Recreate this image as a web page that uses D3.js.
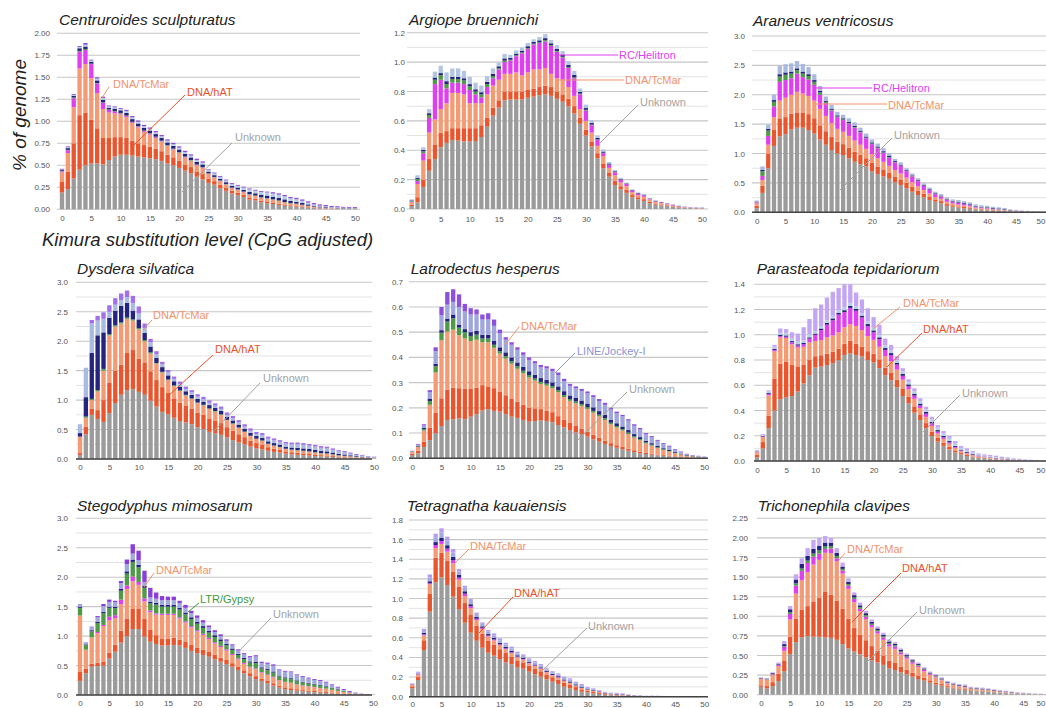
<!DOCTYPE html>
<html>
<head>
<meta charset="utf-8">
<script src="https://cdn.jsdelivr.net/npm/d3@7"></script>
<style>
  body { margin: 0; background: #fff; }
  svg { display: block; }
</style>
</head>
<body>
<div id="chart"></div>
<script>
// Kimura bins 0..50 and x tick labels
var bins = d3.range(0, 51);
var xTicks = [0, 5, 10, 15, 20, 25, 30, 35, 40, 45, 50];

// ---- Centruroides sculpturatus
var csUnknown = [.19,.23,.35,.45,.50,.52,.52,.51,.56,.60, .62,.62,.61,.60,.59,.58,.57,.55,.52,.50, .47,.44,.41,.37,.34,.30,.28,.24,.21,.18, .16,.14,.11,.10,.08,.07,.06,.05,.04,.035, .03,.025,.02,.015,.01,.01,.008,.006,.005,.004, .003];
var csHat = [.12,.20,.40,.62,.60,.50,.40,.30,.25,.22, .20,.19,.17,.15,.14,.13,.12,.11,.10,.09, .08,.07,.07,.06,.06,.05,.04,.04,.035,.03, .03,.025,.025,.02,.02,.02,.018,.015,.012,.01, .01,.008,.006,.005,.004,.003,.002,.002,.001,.001, .001];
var csTcMar = [.11,.21,.41,.53,.55,.47,.40,.33,.29,.27, .26,.24,.20,.18,.15,.14,.12,.11,.10,.09, .09,.08,.07,.07,.07,.05,.04,.04,.035,.03, .03,.03,.03,.03,.03,.03,.03,.03,.025,.02, .02,.015,.012,.008,.006,.005,.004,.003,.002,.002, .002];
var csHelitron = [.01,.03,.10,.19,.16,.16,.11,.07,.03,.02, .01,.01,.01,.01,.01,.01,.01,.005,.005,.005, .005,.005,.005,.005,.005,.005,.004,.004,.004,.004, .003,.003,.003,.003,.003,.002,.002,.002,.002,.002, .002,.001,.001,.001,.001,.001,0,0,0,0, 0];
var csGypsy = [.005,.005,.01,.01,.01,.005,.005,.005,.005,.005, .005,.005,.005,.005,.005,.005,.005,.005,.005,.005, .005,.005,.005,.005,.005,.004,.004,.004,.004,.004, .004,.004,.004,.004,.004,.004,.004,.004,.004,.003, .003,.003,.002,.002,.002,.001,.001,.001,.001,.001, .001];
var csLine = [.01,.02,.02,.03,.03,.02,.03,.03,.02,.03, .03,.03,.03,.03,.03,.03,.03,.03,.03,.03, .03,.03,.03,.03,.03,.02,.02,.02,.02,.02, .02,.02,.025,.025,.03,.03,.03,.03,.03,.025, .02,.02,.015,.01,.008,.006,.005,.005,.004,.004, .004];
var csJockey = [.005,.01,.01,.015,.02,.015,.02,.02,.015,.015, .015,.02,.02,.02,.02,.02,.02,.02,.02,.02, .02,.02,.02,.02,.02,.015,.02,.02,.02,.02, .02,.025,.03,.03,.03,.035,.035,.035,.035,.03, .03,.025,.02,.015,.01,.008,.006,.006,.005,.005, .005];
var csSine = [.01,.01,.01,.01,.02,.01,.015,.015,.01,.01, .01,.015,.015,.015,.015,.015,.015,.015,.015,.015, .015,.015,.015,.015,.015,.01,.01,.01,.01,.01, .01,.01,.01,.01,.01,.01,.015,.015,.015,.015, .015,.015,.015,.015,.015,.015,.012,.012,.01,.01, .01];

// ---- Argiope bruennichi
var abUnknown = [.02,.045,.15,.26,.34,.42,.45,.47,.465,.46, .46,.463,.49,.56,.635,.69,.74,.745,.745,.745, .757,.765,.775,.78,.77,.75,.73,.70,.65,.58, .50,.425,.345,.277,.22,.163,.134,.11,.08,.066, .055,.04,.03,.025,.02,.015,.01,.008,.006,.005, .004];
var abHat = [.01,.035,.05,.08,.10,.10,.08,.08,.085,.09, .09,.087,.08,.06,.055,.05,.06,.055,.055,.055, .053,.055,.055,.06,.06,.05,.05,.05,.05,.04, .04,.035,.035,.033,.025,.027,.021,.02,.015,.014, .012,.01,.008,.006,.005,.004,.003,.002,.002,.001, .001];
var abTcMar = [.015,.09,.13,.18,.17,.16,.19,.24,.24,.23, .17,.17,.15,.16,.15,.14,.12,.12,.13,.11, .12,.13,.12,.12,.09,.09,.10,.08,.07,.06, .06,.06,.05,.05,.035,.04,.025,.025,.02,.015, .016,.015,.01,.009,.007,.005,.004,.003,.002,.002, .002];
var abHelitron = [.005,.02,.05,.10,.24,.20,.10,.07,.07,.07, .09,.06,.04,.05,.05,.07,.08,.09,.11,.15, .16,.17,.18,.18,.19,.18,.15,.13,.12,.10, .07,.05,.04,.02,.02,.02,.02,.015,.01,.01, .01,.005,.005,.005,.004,.003,.002,.002,.001,.001, .001];
var abGypsy = [.005,.015,.012,.02,.03,.03,.03,.025,.025,.025, .025,.02,.02,.02,.015,.008,.01,.006,.006,.006, .006,.005,.006,.008,.006,.006,.006,.006,.006,.005, .005,.004,.004,.003,.003,.002,.002,.002,.001,.001, .001,.001,.001,0,0,0,0,0,0,0, 0];
var abLine = [.004,.008,.01,.012,.015,.015,.02,.015,.015,.015, .015,.015,.015,.015,.015,.013,.015,.012,.012,.012, .012,.012,.012,.015,.012,.014,.014,.014,.016,.012, .012,.011,.01,.008,.007,.005,.004,.003,.003,.003, .003,.002,.002,.002,.002,.002,.002,.001,.001,.001, .001];
var abJockey = [.007,.017,.018,.028,.04,.05,.06,.057,.057,.05, .05,.045,.045,.04,.037,.025,.03,.022,.022,.022, .022,.018,.022,.027,.022,.025,.025,.027,.028,.023, .023,.02,.016,.014,.01,.008,.007,.005,.005,.004, .003,.003,.003,.003,.002,.002,.002,.002,.002,.002, .002];

// ---- Araneus ventricosus
var avUnknown = [.07,.33,.75,1.13,1.29,1.33,1.41,1.44,1.44,1.40, 1.34,1.24,1.15,1.06,1.00,.975,.92,.86,.82,.78, .70,.65,.61,.57,.51,.465,.41,.35,.295,.255, .21,.18,.153,.11,.096,.08,.07,.06,.05,.04, .035,.03,.025,.02,.015,.012,.01,.008,.006,.005, .004];
var avHat = [.04,.12,.25,.27,.31,.29,.27,.26,.26,.27, .26,.24,.23,.22,.20,.185,.18,.17,.16,.14, .14,.13,.12,.10,.10,.095,.09,.08,.075,.065, .05,.04,.037,.03,.024,.02,.02,.015,.012,.01, .01,.008,.007,.006,.004,.003,.002,.002,.002,.001, .001];
var avTcMar = [.04,.10,.15,.22,.30,.33,.32,.35,.32,.31, .30,.28,.26,.24,.22,.21,.20,.19,.17,.16, .15,.14,.13,.12,.11,.10,.09,.08,.07,.06, .06,.04,.04,.04,.03,.03,.025,.025,.018,.018, .015,.012,.011,.009,.006,.005,.004,.003,.002,.002, .001];
var avHelitron = [.02,.07,.15,.18,.32,.30,.28,.31,.28,.28, .27,.24,.22,.21,.20,.20,.21,.22,.21,.18, .17,.17,.15,.14,.13,.13,.11,.10,.09,.07, .06,.05,.04,.035,.03,.03,.025,.02,.015,.012, .01,.008,.007,.007,.005,.004,.003,.002,.002,.001, .001];
var avGypsy = [.01,.08,.09,.08,.09,.09,.08,.06,.06,.06, .05,.04,.02,.015,.01,.01,.01,.01,.01,.01, .01,.01,.01,.008,.007,.007,.006,.006,.006,.005, .005,.005,.005,.005,.005,.006,.006,.006,.005,.005, .005,.005,.005,.004,.003,.002,.001,.001,.001,.001, 0];
var avLine = [.005,.02,.03,.03,.04,.04,.035,.03,.035,.03, .03,.025,.02,.02,.02,.02,.02,.02,.02,.02, .02,.02,.02,.02,.015,.015,.012,.012,.012,.01, .01,.01,.01,.01,.01,.012,.012,.012,.01,.01, .01,.01,.01,.008,.005,.004,.003,.003,.002,.002, .001];
var avJockey = [.015,.06,.07,.09,.14,.14,.14,.125,.13,.12, .10,.085,.07,.065,.06,.06,.06,.06,.05,.05, .05,.05,.05,.042,.038,.038,.032,.032,.032,.025, .025,.025,.025,.025,.025,.032,.032,.032,.025,.025, .025,.022,.02,.02,.012,.01,.007,.006,.005,.003, .002];

// ---- Dysdera silvatica
var dsUnknown = [.07,.42,.75,.68,.63,.78,.95,1.09,1.17,1.19, 1.14,1.09,.99,.89,.80,.76,.70,.645,.62,.59, .54,.51,.46,.435,.41,.37,.32,.28,.25,.21, .18,.165,.14,.12,.11,.09,.08,.07,.065,.06, .05,.045,.04,.035,.03,.025,.02,.015,.012,.01, .008];
var dsHat = [.03,.13,.10,.15,.37,.52,.55,.51,.63,.66, .56,.55,.50,.45,.42,.36,.33,.31,.28,.26, .25,.24,.23,.22,.20,.17,.16,.14,.12,.10, .09,.08,.06,.055,.045,.04,.035,.035,.03,.03, .025,.02,.02,.015,.01,.01,.008,.006,.005,.003, .002];
var dsTcMar = [.28,.15,.15,.32,.50,.80,.75,.70,.58,.50, .50,.36,.30,.28,.25,.22,.21,.20,.18,.17, .16,.16,.16,.15,.14,.12,.12,.11,.09,.08, .07,.065,.055,.05,.045,.04,.04,.04,.04,.035, .035,.03,.03,.025,.02,.018,.015,.012,.01,.007, .005];
var dsGypsy = [0,.02,.02,.02,.03,.02,.02,.02,.02,.02, .02,.02,.02,.01,.01,.01,.01,.01,.01,.01, .01,.01,.01,.01,.01,.005,.005,.005,.005,.005, .005,.005,.005,.005,.005,.005,.005,.005,.005,.005, .005,.005,.005,.005,.003,.002,.002,.002,.001,.001, .001];
var dsLine = [.06,.33,.78,.93,.62,.28,.25,.28,.25,.15, .15,.12,.10,.09,.08,.07,.07,.065,.06,.06, .06,.055,.055,.055,.055,.05,.05,.05,.05,.05, .045,.045,.04,.04,.04,.035,.035,.04,.04,.04, .04,.035,.035,.03,.025,.022,.018,.013,.01,.007, .006];
var dsJockey = [.15,.50,.50,.25,.23,.10,.10,.10,.10,.13, .10,.08,.07,.06,.05,.05,.04,.045,.04,.04, .04,.04,.04,.035,.035,.035,.035,.035,.035,.035, .035,.045,.045,.045,.045,.05,.055,.06,.06,.055, .055,.055,.05,.045,.04,.035,.027,.02,.017,.012, .01];
var dsSine = [0,0,.06,.08,.11,.11,.11,.11,.11,.12, .12,.08,.06,.05,.04,.04,.04,.04,.04,.04, .04,.04,.04,.04,.04,.04,.04,.04,.04,.04, .035,.035,.035,.035,.03,.03,.03,.03,.03,.03, .03,.03,.03,.025,.022,.023,.02,.017,.015,.01, .008];

// ---- Latrodectus hesperus
var lhUnknown = [.013,.02,.045,.072,.10,.128,.152,.155,.158,.155, .165,.175,.19,.195,.188,.185,.175,.165,.16,.152, .145,.148,.15,.148,.143,.132,.123,.112,.103,.096, .086,.075,.066,.057,.049,.042,.036,.03,.025,.02, .017,.014,.012,.01,.008,.006,.005,.004,.003,.002, .002];
var lhHat = [.005,.01,.02,.05,.08,.11,.12,.125,.12,.12, .11,.105,.10,.09,.09,.08,.075,.07,.065,.06, .055,.05,.045,.04,.04,.035,.03,.028,.025,.022, .02,.018,.015,.013,.011,.01,.009,.008,.007,.006, .005,.004,.003,.003,.002,.002,.001,.001,.001,.001, 0];
var lhTcMar = [.007,.015,.045,.09,.16,.23,.23,.23,.21,.20, .19,.19,.17,.175,.16,.15,.145,.14,.13,.125, .12,.11,.10,.10,.095,.095,.09,.088,.09,.09, .09,.088,.085,.082,.075,.07,.065,.058,.05,.045, .037,.032,.026,.02,.017,.012,.009,.005,.003,.002, .001];
var lhGypsy = [.001,.002,.005,.015,.025,.03,.04,.045,.03,.025, .02,.02,.015,.015,.012,.01,.01,.01,.01,.01, .01,.008,.008,.008,.008,.008,.008,.007,.007,.007, .007,.007,.007,.007,.006,.006,.006,.006,.005,.005, .004,.004,.003,.003,.002,.002,.001,.001,.001,.001, 0];
var lhLine = [.001,.002,.005,.01,.01,.01,.012,.015,.012,.012, .015,.015,.015,.015,.015,.015,.015,.015,.015,.015, .015,.015,.015,.015,.015,.015,.015,.014,.014,.014, .014,.014,.014,.013,.012,.011,.01,.01,.009,.008, .007,.006,.005,.004,.004,.003,.002,.002,.001,.001, .001];
var lhJockey = [.002,.005,.01,.025,.05,.06,.055,.05,.07,.07, .07,.065,.06,.06,.06,.055,.05,.05,.05,.048, .045,.045,.043,.045,.045,.045,.04,.038,.038,.038, .04,.04,.04,.04,.04,.039,.04,.037,.033,.03, .025,.023,.02,.016,.013,.008,.006,.003,.002,.002, .002];
var lhSine = [.001,.003,.005,.008,.015,.032,.05,.05,.05,.03, .025,.02,.02,.025,.025,.015,.01,.01,.01,.01, .01,.009,.009,.009,.009,.01,.009,.008,.008,.008, .008,.008,.008,.008,.007,.007,.006,.006,.006,.006, .005,.005,.004,.004,.004,.003,.003,.002,.002,.001, .001];

// ---- Parasteatoda tepidariorum
var ptUnknown = [.03,.10,.26,.40,.49,.505,.515,.55,.615,.68, .74,.748,.76,.775,.80,.84,.853,.84,.827,.80, .78,.735,.68,.64,.584,.515,.457,.383,.325,.26, .198,.153,.12,.092,.069,.053,.04,.03,.024,.02, .016,.013,.01,.008,.006,.005,.004,.003,.002,.002, .001];
var ptHat = [.02,.05,.10,.25,.28,.28,.25,.20,.15,.12, .09,.09,.09,.09,.09,.09,.10,.09,.08,.07, .07,.07,.06,.06,.06,.06,.05,.05,.045,.04, .035,.03,.025,.02,.015,.01,.008,.006,.005,.004, .003,.003,.002,.002,.001,.001,.001,.001,0,0, 0];
var ptTcMar = [.02,.04,.16,.22,.21,.19,.16,.15,.14,.14, .12,.12,.13,.13,.13,.13,.13,.14,.13,.12, .11,.10,.09,.09,.08,.07,.06,.06,.05,.05, .045,.035,.03,.025,.02,.015,.012,.01,.007,.006, .005,.004,.003,.003,.002,.002,.001,.001,.001,.001, .001];
var ptHelitron = [.005,.005,.01,.01,.01,.01,.015,.015,.02,.03, .05,.08,.10,.12,.14,.12,.13,.12,.10,.08, .06,.06,.05,.05,.04,.03,.025,.025,.02,.025, .02,.015,.013,.011,.008,.005,.005,.004,.003,.002, .002,.002,.001,.001,.001,.001,0,0,0,0, 0];
var ptLine = [.002,.004,.008,.01,.01,.01,.01,.01,.01,.01, .01,.012,.015,.015,.015,.015,.015,.015,.015,.015, .015,.015,.015,.015,.015,.015,.015,.015,.015,.015, .012,.012,.01,.01,.008,.007,.006,.005,.004,.003, .003,.003,.003,.003,.002,.002,.001,.001,.001,0, 0];
var ptJockey = [.005,.008,.012,.015,.015,.02,.02,.02,.02,.025, .02,.02,.02,.02,.02,.025,.025,.02,.02,.02, .02,.02,.02,.02,.02,.02,.02,.02,.02,.02, .02,.02,.02,.02,.018,.014,.014,.012,.007,.007, .007,.006,.005,.004,.003,.002,.002,.001,.001,.001, .001];
var ptSine = [.005,.007,.01,.015,.035,.03,.05,.065,.105,.12, .18,.17,.18,.19,.175,.18,.147,.11,.108,.105, .085,.08,.055,.045,.031,.025,.02,.023,.022,.02, .02,.02,.02,.02,.02,.015,.015,.013,.01,.011, .012,.011,.01,.008,.006,.005,.004,.003,.003,.002, .002];

// ---- Stegodyphus mimosarum
var smUnknown = [.24,.37,.48,.49,.50,.62,.735,.89,1.00,1.12, 1.12,.99,.905,.865,.84,.84,.85,.84,.80,.75, .71,.68,.65,.605,.565,.525,.48,.425,.37,.32, .27,.24,.20,.16,.125,.10,.085,.073,.063,.055, .048,.04,.035,.03,.025,.02,.015,.01,.007,.005, .004];
var smHat = [.15,.08,.05,.06,.07,.10,.12,.20,.30,.35, .35,.30,.20,.15,.12,.12,.12,.10,.10,.10, .09,.09,.08,.08,.07,.07,.06,.06,.05,.05, .05,.04,.04,.04,.035,.03,.03,.025,.02,.02, .02,.015,.015,.01,.008,.006,.004,.003,.002,.001, .001];
var smTcMar = [.96,.32,.45,.50,.60,.55,.45,.45,.50,.46, .40,.30,.30,.35,.40,.40,.39,.36,.33,.30, .28,.25,.22,.19,.18,.16,.14,.12,.11,.10, .12,.10,.10,.10,.09,.09,.09,.08,.075,.07, .065,.06,.055,.045,.035,.025,.015,.008,.004,.002, .001];
var smHelitron = [0,0,0,.02,.02,.06,.05,.08,.06,.08, .05,.05,.03,.02,.02,.02,.02,.02,.02,.02, .02,.02,.02,.02,.02,.02,.015,.015,.015,.01, .01,.01,.01,.01,.005,.005,.005,.005,.005,.005, .005,.005,.004,.003,.002,.002,.001,.001,0,0, 0];
var smGypsy = [.13,.08,.10,.15,.20,.15,.12,.15,.20,.25, .25,.18,.12,.15,.12,.12,.12,.13,.12,.12, .11,.10,.09,.09,.08,.07,.07,.06,.065,.07, .09,.06,.07,.07,.06,.06,.06,.05,.05,.045, .04,.04,.035,.03,.025,.015,.008,.004,.002,.001, .001];
var smLine = [.02,.01,.02,.02,.02,.02,.02,.03,.04,.04, .04,.03,.03,.03,.03,.03,.03,.03,.03,.03, .03,.03,.03,.03,.03,.025,.025,.02,.02,.02, .02,.02,.02,.02,.015,.015,.015,.015,.01,.01, .01,.01,.008,.007,.005,.004,.003,.002,.001,.001, 0];
var smJockey = [.04,.03,.05,.08,.10,.08,.08,.10,.12,.10, .08,.07,.07,.07,.08,.08,.08,.08,.08,.07, .07,.06,.06,.055,.055,.05,.05,.055,.06,.07, .095,.075,.09,.10,.09,.095,.10,.087,.082,.075, .067,.07,.058,.04,.025,.013,.007,.004,.002,.001, .001];
var smSine = [.005,.005,.01,.02,.035,.04,.025,.035,.08,.16, .16,.19,.165,.105,.07,.06,.06,.04,.05,.04, .04,.04,.03,.03,.03,.025,.02,.02,.02,.02, .02,.02,.02,.02,.015,.015,.015,.015,.015,.015, .015,.015,.015,.015,.015,.015,.015,.008,.005,.004, .002];

// ---- Tetragnatha kauaiensis
var tkUnknown = [.085,.17,.475,.866,1.165,1.216,1.138,1.02,.893,.754, .652,.57,.50,.448,.418,.384,.35,.33,.30,.285, .255,.228,.204,.177,.153,.13,.102,.085,.068,.05, .044,.034,.028,.02,.016,.013,.01,.008,.006,.005, .004,.003,.003,.002,.002,.002,.001,.001,.001,.001, .001];
var tkHat = [.02,.03,.10,.18,.25,.25,.25,.25,.23,.20, .18,.15,.14,.12,.11,.10,.095,.08,.07,.065, .06,.06,.055,.05,.045,.045,.04,.035,.03,.025, .018,.015,.012,.008,.006,.005,.004,.003,.002,.001, .001,.001,.001,.001,0,0,0,0,0,0, 0];
var tkTcMar = [.015,.025,.05,.10,.10,.09,.09,.09,.07,.07, .07,.06,.05,.045,.045,.042,.04,.035,.032,.028, .025,.025,.025,.022,.02,.02,.02,.02,.015,.015, .01,.009,.007,.005,.004,.004,.003,.002,.001,.001, .001,.001,.001,0,0,0,0,0,0,0, 0];
var tkHelitron = [.003,.005,.01,.01,.03,.03,.03,.03,.02,.025, .02,.015,.012,.01,.01,.008,.008,.007,.007,.006, .005,.005,.005,.004,.004,.004,.003,.003,.002,.002, .002,.001,.001,.001,.001,.001,.001,0,0,0, 0,0,0,0,0,0,0,0,0,0, 0];
var tkLine = [.003,.005,.015,.02,.03,.035,.035,.035,.03,.025, .02,.02,.015,.015,.015,.015,.015,.015,.013,.012, .011,.01,.01,.01,.01,.01,.01,.012,.01,.01, .007,.007,.006,.005,.004,.005,.005,.004,.003,.002, .001,.001,.001,.001,.001,.001,.001,0,0,0, 0];
var tkJockey = [.005,.01,.02,.04,.05,.05,.05,.045,.035,.035, .033,.026,.025,.027,.027,.025,.022,.023,.02,.02, .019,.02,.019,.015,.017,.017,.017,.02,.016,.016, .01,.01,.007,.005,.004,.005,.004,.002,.001,.001, .001,.001,.001,.001,.001,.001,.001,.001,0,0, 0];
var tkSine = [.005,.01,.02,.029,.035,.044,.037,.035,.022,.021, .02,.015,.015,.015,.02,.02,.02,.02,.017,.015, .015,.015,.015,.011,.011,.012,.012,.012,.012,.012, .009,.009,.007,.006,.005,.007,.007,.005,.004,.004, .002,.004,.003,.003,.003,.002,.002,.002,.001,.001, .001];

// ---- Trichonephila clavipes
var tnUnknown = [.10,.08,.11,.175,.30,.52,.67,.73,.75,.74, .74,.73,.725,.70,.645,.59,.55,.515,.475,.44, .41,.38,.335,.315,.285,.26,.23,.20,.18,.153, .13,.115,.094,.08,.068,.06,.05,.045,.04,.035, .03,.025,.02,.016,.012,.01,.008,.006,.005,.004, .003];
var tnHat = [.02,.03,.05,.09,.13,.22,.30,.35,.38,.45, .50,.58,.55,.50,.45,.38,.30,.25,.22,.18, .15,.12,.10,.09,.07,.06,.05,.045,.035,.03, .025,.02,.015,.013,.012,.01,.008,.007,.006,.005, .004,.004,.003,.002,.002,.001,.001,.001,.001,.001, 0];
var tnTcMar = [.08,.08,.09,.10,.13,.22,.32,.38,.43,.47, .48,.50,.53,.50,.45,.38,.33,.30,.27,.24, .22,.20,.18,.18,.16,.14,.115,.11,.085,.07, .065,.05,.035,.03,.025,.025,.018,.016,.016,.015, .012,.01,.008,.006,.004,.003,.002,.002,.001,.001, .001];
var tnHelitron = [.005,.005,.01,.015,.05,.07,.10,.12,.12,.10, .08,.05,.06,.04,.04,.04,.04,.03,.03,.03, .03,.03,.03,.03,.025,.02,.02,.015,.015,.012, .01,.008,.006,.005,.004,.004,.003,.003,.003,.002, .002,.002,.002,.001,.001,.001,.001,0,0,0, 0];
var tnGypsy = [.005,.005,.005,.005,.01,.02,.03,.03,.03,.04, .04,.03,.03,.03,.02,.02,.02,.02,.02,.015, .015,.015,.015,.015,.012,.01,.01,.01,.008,.007, .007,.005,.005,.005,.005,.005,.004,.004,.004,.003, .003,.003,.002,.002,.001,.001,.001,.001,0,0, 0];
var tnLine = [.005,.005,.01,.01,.025,.04,.05,.06,.06,.06, .06,.05,.04,.04,.03,.03,.03,.025,.025,.025, .02,.02,.02,.02,.018,.015,.015,.015,.012,.01, .01,.01,.008,.008,.008,.008,.007,.007,.008,.008, .007,.006,.006,.005,.004,.003,.002,.001,.001,.001, .001];
var tnSine = [.005,.005,.01,.015,.04,.04,.065,.07,.10,.115, .10,.085,.065,.06,.05,.045,.035,.035,.03,.03, .025,.025,.025,.02,.02,.02,.015,.015,.015,.013, .013,.012,.012,.012,.014,.018,.01,.012,.013,.012, .01,.01,.009,.008,.006,.006,.005,.004,.004,.003, .003];

// stacking order, bottom to top
var keys = ["unknown", "hat", "tcmar", "helitron", "gypsy", "line", "jockey", "sine"];
var colors = {
  unknown: "#9b9b9b", hat: "#e9562e", tcmar: "#f39b74", helitron: "#e03ff0",
  gypsy: "#4f9a46", line: "#24247e", jockey: "#a9b8e0", sine: "#9a5ee0"
};
var C = { tcmar: "#f2936b", hat: "#e8532b", unknown: "#a3a3a3", helitron: "#e03ff0", jockey: "#8c94d4", gypsy: "#3f9a3a" };

var panels = [
  { title: "Centruroides sculpturatus",
    series: { unknown: csUnknown, hat: csHat, tcmar: csTcMar, helitron: csHelitron, gypsy: csGypsy, line: csLine, jockey: csJockey, sine: csSine },
    jockeyColor: "#b6cde8", sineColor: "#8f4fd8",
    x0: 62, x50: 355, yTop: 33.3, yBase: 209.3, ymax: 2, step: 0.25, minor: 0, fmt: ".2f",
    gx0: 57, gx1: 360, titleX: 59, titleY: 25, labX: 50, tickY: 221, darkBase: false,
    notes: [
      { t: "DNA/TcMar", c: C.tcmar, tx: 113, ty: 88, l: [109, 87, 102, 98] },
      { t: "DNA/hAT", c: C.hat, tx: 187, ty: 96, l: [185, 95, 132, 147] },
      { t: "Unknown", c: C.unknown, tx: 235, ty: 141, l: [232, 143, 182, 192] }
    ] },
  { title: "Argiope bruennichi",
    series: { unknown: abUnknown, hat: abHat, tcmar: abTcMar, helitron: abHelitron, gypsy: abGypsy, line: abLine, jockey: abJockey },
    jockeyColor: "#b2c6e4", sineColor: "#9a5ee0",
    x0: 411.7, x50: 702, yTop: 32.7, yBase: 209, ymax: 1.2, step: 0.2, minor: 0.1, fmt: ".1f",
    gx0: 407, gx1: 708, titleX: 409, titleY: 25, labX: 405, tickY: 222, darkBase: false,
    notes: [
      { t: "RC/Helitron", c: C.helitron, tx: 619, ty: 59, l: [550, 55, 618, 55] },
      { t: "DNA/TcMar", c: C.tcmar, tx: 625, ty: 84, l: [557, 80, 624, 80] },
      { t: "Unknown", c: C.unknown, tx: 640, ty: 106, l: [638, 105, 600, 143] }
    ] },
  { title: "Araneus ventricosus",
    series: { unknown: avUnknown, hat: avHat, tcmar: avTcMar, helitron: avHelitron, gypsy: avGypsy, line: avLine, jockey: avJockey },
    jockeyColor: "#aab9e0", sineColor: "#9a5ee0",
    x0: 756.7, x50: 1044.8, yTop: 36, yBase: 212.3, ymax: 3, step: 0.5, minor: 0.25, fmt: ".1f",
    gx0: 752, gx1: 1046, titleX: 753, titleY: 26, labX: 745, tickY: 224, darkBase: true,
    notes: [
      { t: "RC/Helitron", c: C.helitron, tx: 873, ty: 92, l: [815, 88, 872, 88] },
      { t: "DNA/TcMar", c: C.tcmar, tx: 888, ty: 108.5, l: [815, 104, 887, 104] },
      { t: "Unknown", c: C.unknown, tx: 894, ty: 138.5, l: [892, 138, 840, 190] }
    ] },
  { title: "Dysdera silvatica",
    series: { unknown: dsUnknown, hat: dsHat, tcmar: dsTcMar, gypsy: dsGypsy, line: dsLine, jockey: dsJockey, sine: dsSine },
    jockeyColor: "#a9bbe0", sineColor: "#a270ea",
    x0: 80, x50: 374, yTop: 282.3, yBase: 459, ymax: 3, step: 0.5, minor: 0.25, fmt: ".1f",
    gx0: 76, gx1: 372, titleX: 77, titleY: 274, labX: 68, tickY: 470.5, darkBase: true,
    notes: [
      { t: "DNA/TcMar", c: C.tcmar, tx: 153, ty: 319, l: [152, 320, 143, 330] },
      { t: "DNA/hAT", c: C.hat, tx: 215, ty: 352.5, l: [213, 355, 167, 397] },
      { t: "Unknown", c: C.unknown, tx: 263, ty: 382, l: [260, 383, 213, 432] }
    ] },
  { title: "Latrodectus hesperus",
    series: { unknown: lhUnknown, hat: lhHat, tcmar: lhTcMar, gypsy: lhGypsy, line: lhLine, jockey: lhJockey, sine: lhSine },
    jockeyColor: "#9fa6dc", sineColor: "#8d50dc",
    x0: 412.3, x50: 704.3, yTop: 281.7, yBase: 458.3, ymax: 0.7, step: 0.1, minor: 0, fmt: ".1f",
    gx0: 409, gx1: 708, titleX: 410.7, titleY: 274, labX: 403, tickY: 470, darkBase: true,
    notes: [
      { t: "DNA/TcMar", c: C.tcmar, tx: 521, ty: 330, l: [519, 327, 505, 345] },
      { t: "LINE/Jockey-I", c: C.jockey, tx: 577, ty: 355, l: [575, 353, 555, 373] },
      { t: "Unknown", c: C.unknown, tx: 629, ty: 392.5, l: [627, 392, 578, 440] }
    ] },
  { title: "Parasteatoda tepidariorum",
    series: { unknown: ptUnknown, hat: ptHat, tcmar: ptTcMar, helitron: ptHelitron, line: ptLine, jockey: ptJockey, sine: ptSine },
    jockeyColor: "#b8cfe8", sineColor: "#c3a6f3",
    x0: 757, x50: 1048.5, yTop: 284.3, yBase: 461, ymax: 1.4, step: 0.2, minor: 0.1, fmt: ".1f",
    gx0: 754, gx1: 1046, titleX: 756.7, titleY: 274, labX: 745, tickY: 473, darkBase: true,
    notes: [
      { t: "DNA/TcMar", c: C.tcmar, tx: 903, ty: 307, l: [900, 307, 873, 329] },
      { t: "DNA/hAT", c: C.hat, tx: 923, ty: 332.5, l: [922, 333, 887, 367] },
      { t: "Unknown", c: C.unknown, tx: 962, ty: 397, l: [960, 395, 923, 432] }
    ] },
  { title: "Stegodyphus mimosarum",
    series: { unknown: smUnknown, hat: smHat, tcmar: smTcMar, helitron: smHelitron, gypsy: smGypsy, line: smLine, jockey: smJockey, sine: smSine },
    jockeyColor: "#a0a9dd", sineColor: "#8a3ed8",
    x0: 80, x50: 373, yTop: 518.3, yBase: 695, ymax: 3, step: 0.5, minor: 0.25, fmt: ".1f",
    gx0: 76, gx1: 372, titleX: 77, titleY: 510.5, labX: 68, tickY: 706.5, darkBase: true,
    notes: [
      { t: "DNA/TcMar", c: C.tcmar, tx: 156, ty: 574, l: [154, 573, 144, 587] },
      { t: "LTR/Gypsy", c: C.gypsy, tx: 200, ty: 602.5, l: [199, 603, 188, 612] },
      { t: "Unknown", c: C.unknown, tx: 273, ty: 618, l: [271, 618, 238, 652] }
    ] },
  { title: "Tetragnatha kauaiensis",
    series: { unknown: tkUnknown, hat: tkHat, tcmar: tkTcMar, helitron: tkHelitron, line: tkLine, jockey: tkJockey, sine: tkSine },
    jockeyColor: "#a2aadf", sineColor: "#b59bf0",
    x0: 412.3, x50: 704.3, yTop: 520, yBase: 696.7, ymax: 1.8, step: 0.2, minor: 0.1, fmt: ".1f",
    gx0: 409, gx1: 708, titleX: 406.7, titleY: 510.5, labX: 403, tickY: 707, darkBase: true,
    notes: [
      { t: "DNA/TcMar", c: C.tcmar, tx: 470, ty: 550, l: [469, 549, 455, 563] },
      { t: "DNA/hAT", c: C.hat, tx: 514, ty: 597, l: [513, 597, 479, 633] },
      { t: "Unknown", c: C.unknown, tx: 588, ty: 630, l: [587, 628, 543, 670] }
    ] },
  { title: "Trichonephila clavipes",
    series: { unknown: tnUnknown, hat: tnHat, tcmar: tnTcMar, helitron: tnHelitron, gypsy: tnGypsy, line: tnLine, sine: tnSine },
    jockeyColor: "#a9b8e0", sineColor: "#c4a8f3",
    x0: 761, x50: 1052.4, yTop: 518.3, yBase: 694.7, ymax: 2.25, step: 0.25, minor: 0, fmt: ".2f",
    gx0: 757, gx1: 1046, titleX: 757.7, titleY: 510.5, labX: 748, tickY: 706.5, darkBase: false,
    notes: [
      { t: "DNA/TcMar", c: C.tcmar, tx: 847, ty: 553, l: [845, 553, 835, 565] },
      { t: "DNA/hAT", c: C.hat, tx: 902, ty: 572, l: [901, 573, 852, 622] },
      { t: "Unknown", c: C.unknown, tx: 919, ty: 613.5, l: [917, 612, 867, 662] }
    ] }
];

var FONT = "'Liberation Sans', Arial, Helvetica, sans-serif";
var W = 1046, H = 708;

var svg = d3.select("#chart").append("svg")
  .attr("width", W)
  .attr("height", H)
  .style("font-family", FONT);

panels.forEach(function(p) {
  var g = svg.append("g");
  var x = d3.scaleLinear().domain([0, 50]).range([p.x0, p.x50]);
  var y = d3.scaleLinear().domain([0, p.ymax]).range([p.yBase, p.yTop]);

  var major = d3.range(Math.round(p.ymax / p.step) + 1).map(function(i) { return +(i * p.step).toFixed(4); });
  var minor = [];
  if (p.minor) {
    minor = d3.range(Math.round(p.ymax / p.minor) + 1)
      .map(function(i) { return +(i * p.minor).toFixed(4); })
      .filter(function(v) { return !major.some(function(m) { return Math.abs(m - v) < 1e-6; }); });
  }

  // grid
  g.selectAll(".minor").data(minor).enter().append("line")
    .attr("x1", p.gx0).attr("x2", p.gx1)
    .attr("y1", function(d) { return y(d); }).attr("y2", function(d) { return y(d); })
    .attr("stroke", "#e3e3e3").attr("stroke-width", 1);
  g.selectAll(".major").data(major).enter().append("line")
    .attr("x1", p.gx0).attr("x2", p.gx1)
    .attr("y1", function(d) { return y(d); }).attr("y2", function(d) { return y(d); })
    .attr("stroke", "#c6c6c6").attr("stroke-width", 1.1);

  // stacked bars
  var rows = bins.map(function(i) {
    var r = { bin: i };
    keys.forEach(function(k) { r[k] = p.series[k] ? p.series[k][i] : 0; });
    return r;
  });
  var stacked = d3.stack().keys(keys)(rows);
  var bw = (x(1) - x(0)) * 0.74;

  g.selectAll(".layer").data(stacked).enter().append("g")
    .attr("fill", function(d) {
      if (d.key === "jockey") return p.jockeyColor;
      if (d.key === "sine") return p.sineColor;
      return colors[d.key];
    })
    .selectAll("rect").data(function(d) { return d; }).enter().append("rect")
    .attr("x", function(d) { return x(d.data.bin) - bw / 2; })
    .attr("y", function(d) { return y(d[1]); })
    .attr("width", bw)
    .attr("height", function(d) { return Math.max(0, y(d[0]) - y(d[1])); });

  if (p.darkBase) {
    g.append("line").attr("x1", p.gx0).attr("x2", p.gx1)
      .attr("y1", y(0)).attr("y2", y(0))
      .attr("stroke", "#444").attr("stroke-width", 1.5);
  }

  // y tick labels
  var ya = g.append("g").attr("transform", "translate(" + p.labX + ",0)")
    .call(d3.axisLeft(y).tickValues(major).tickFormat(d3.format(p.fmt)).tickSize(0).tickPadding(0));
  ya.select(".domain").remove();
  ya.attr("font-family", FONT).attr("font-size", 8);
  ya.selectAll("text").attr("fill", "#555");

  // x tick labels (the last one is pulled inside the page edge)
  var xa = g.append("g").attr("transform", "translate(0," + (p.tickY - 6) + ")")
    .call(d3.axisBottom(x).tickValues(xTicks).tickSize(0).tickPadding(0));
  xa.select(".domain").remove();
  xa.attr("font-family", FONT).attr("font-size", 8);
  xa.selectAll("text").attr("fill", "#555");
  xa.selectAll(".tick").filter(function(d) { return x(d) + 5 > W - 1; })
    .select("text")
    .attr("text-anchor", "end")
    .attr("x", function(d) { return (W - 1) - x(d); });

  // title
  g.append("text").attr("x", p.titleX).attr("y", p.titleY)
    .attr("font-size", 15.5).attr("font-style", "italic").attr("fill", "#222")
    .text(p.title);

  // annotations
  p.notes.forEach(function(n) {
    g.append("line")
      .attr("x1", n.l[0]).attr("y1", n.l[1]).attr("x2", n.l[2]).attr("y2", n.l[3])
      .attr("stroke", n.c).attr("stroke-width", 1);
    g.append("text").attr("x", n.tx).attr("y", n.ty)
      .attr("font-size", 11).attr("fill", n.c).text(n.t);
  });
});

// shared axis titles
svg.append("text")
  .attr("transform", "translate(26,115) rotate(-90)")
  .attr("text-anchor", "middle")
  .attr("font-size", 19).attr("font-style", "italic").attr("fill", "#222")
  .text("% of genome");

svg.append("text")
  .attr("x", 42).attr("y", 246)
  .attr("font-size", 18.5).attr("font-style", "italic").attr("fill", "#222")
  .text("Kimura substitution level (CpG adjusted)");
</script>
</body>
</html>
